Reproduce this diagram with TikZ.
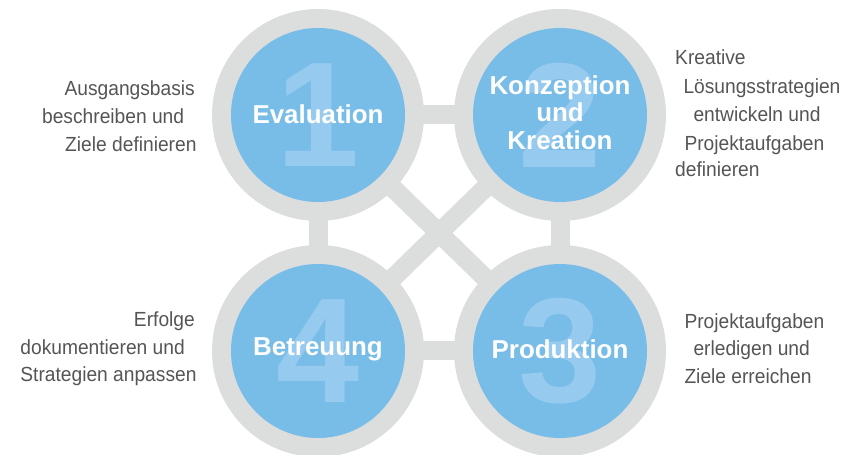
\documentclass[tikz,border=0pt]{standalone}
\usepackage{fontspec}
\setmainfont{Liberation Sans}
\newfontfamily\descfont[FakeStretch=0.94]{Liberation Sans}
\definecolor{ringgray}{RGB}{220,221,221}
\definecolor{cblue}{RGB}{120,188,232}
\definecolor{dblue}{RGB}{150,202,238}
\definecolor{txtgray}{RGB}{85,85,88}
\begin{document}
\begin{tikzpicture}[x=1bp,y=-1bp,
  bar/.style={draw=ringgray, line width=19bp},
  ring/.style={circle, fill=ringgray, minimum size=212bp, inner sep=0pt},
  disc/.style={circle, fill=cblue, minimum size=174bp, inner sep=0pt},
  digit/.style={text=dblue, font=\fontsize{150}{150}\selectfont\bfseries, inner sep=0pt},
  title/.style={text=white, font=\fontsize{26}{27.5}\selectfont\bfseries, align=center, inner sep=0pt},
  desc/.style={text=txtgray, font=\descfont\fontsize{20.5}{28}\selectfont, inner sep=0pt}]
\useasboundingbox (0,0) rectangle (847,455);
\coordinate (p1) at (318,115);
\coordinate (p2) at (560,115);
\coordinate (p3) at (560,351);
\coordinate (p4) at (318,351);
% connectors
\draw[bar] (p1) -- (p2);
\draw[bar] (p2) -- (p3);
\draw[bar] (p3) -- (p4);
\draw[bar] (p4) -- (p1);
\draw[bar] (p1) -- (p3);
\draw[bar] (p2) -- (p4);
% circles
\foreach \i in {1,2,3,4} {
  \node[ring] (r\i) at (p\i) {};
  \node[disc] (d\i) at (p\i) {};
}
\node[digit] (n1) at (p1) {1};
\node[digit] (n2) at (p2) {2};
\node[digit] (n3) at (p3) {3};
\node[digit] (n4) at (p4) {4};
\node[title] (t1) at (318,114) {Evaluation};
\node[title] (t2) at (560,112.5) {Konzeption\\und\\Kreation};
\node[title] (t3) at (560,349) {Produktion};
\node[title] (t4) at (318,349) {Betreuung};
% descriptions top left
\node[desc, anchor=base east] (a1) at (195,96) {Ausgangsbasis};
\node[desc, anchor=base east] (a2) at (184.3,124) {beschreiben und};
\node[desc, anchor=base east] (a3) at (196.7,152) {Ziele definieren};
% top right
\node[desc, anchor=base west] (b1) at (675,65) {Kreative};
\node[desc, anchor=base west] (b2) at (683.3,94) {Lösungsstrategien};
\node[desc, anchor=base west] (b3) at (693.3,122) {entwickeln und};
\node[desc, anchor=base west] (b4) at (684.3,151) {Projektaufgaben};
\node[desc, anchor=base west] (b5) at (675,177) {definieren};
% bottom left
\node[desc, anchor=base east] (c1) at (195,327) {Erfolge};
\node[desc, anchor=base east] (c2) at (185,354.5) {dokumentieren und};
\node[desc, anchor=base east] (c3) at (196.7,382) {Strategien anpassen};
% bottom right
\node[desc, anchor=base west] (e1) at (684.3,328.5) {Projektaufgaben};
\node[desc, anchor=base west] (e2) at (693.3,355.5) {erledigen und};
\node[desc, anchor=base west] (e3) at (684.3,383.5) {Ziele erreichen};
\end{tikzpicture}
\end{document}
